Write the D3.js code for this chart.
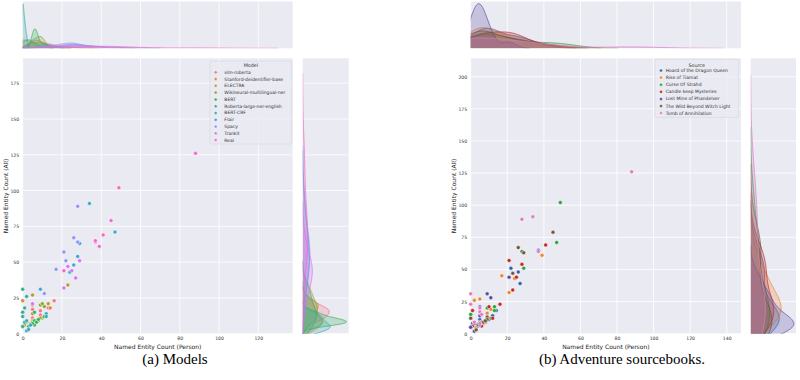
<!DOCTYPE html>
<html><head><meta charset="utf-8">
<script src="https://cdn.jsdelivr.net/npm/d3@7"></script>
<style>body{margin:0;background:#fff}svg{display:block}</style>
</head><body>
<svg id="c" width="800" height="380"></svg>
<script>
// ---------------- DATA ----------------
const models = ["xlm-roberta","Stanford-deidentifier-base","ELECTRA","Wikineural-multilingual-ner","BERT",
  "Roberta-large-ner-english","BERT-CRF","Flair","Spacy","Trankit","Real"];
const sources = ["Hoard of the Dragon Queen","Rise of Tiamat","Curse Of Strahd","Candle keep Mysteries",
  "Lost Mine of Phandelver","The Wild Beyond Witch Light","Tomb of Annihilation"];
// rows: models, columns: sources (same order as `sources`)
const personCount = [
  [5, 9, 13, 16, 6, 9, 5],
  [14, 0, 5, 1, 0, 2, 0],
  [10, 5, 13, 23, 5, 9, 5],
  [8, 11, 9, 10, 4, 7, 5],
  [6, 7, 11, 6, 5, 8, 6],
  [1, 2, 0, 1, 0, 0, 0],
  [12, 3, 4, 12, 2, 3, 2],
  [26, 24, 47, 28, 9, 29, 34],
  [22, 17, 28, 21, 11, 26, 28],
  [27, 21, 29, 25, 5, 23, 37],
  [37, 39, 49, 41, 21, 45, 88]
];
const allCount = [
  [11, 16, 18, 23, 9, 13, 17],
  [18, 15, 9, 6, 5, 8, 23],
  [11, 27, 21, 34, 14, 11, 20],
  [9, 19, 20, 21, 7, 9, 8],
  [9, 8, 12, 6, 7, 10, 15],
  [8, 26, 15, 18, 5, 12, 31],
  [14, 5, 6, 12, 2, 3, 9],
  [48, 43, 71, 54, 31, 63, 91],
  [51, 45, 64, 57, 28, 67, 89],
  [39, 32, 51, 44, 21, 47, 64],
  [65, 61, 102, 69, 44, 79, 126]
];
const xTicksA = [0, 20, 40, 60, 80, 100, 120];
const yTicksA = [0, 25, 50, 75, 100, 125, 150, 175];
const xTicksB = [0, 20, 40, 60, 80, 100, 120, 140];
const yTicksB = [0, 25, 50, 75, 100, 125, 150, 175, 200];
const sourceColors = ["#3060b0", "#ee8530", "#2ea043", "#c62828", "#5b4a9e", "#7b5535", "#e07cc6"];

// ---------------- HUSL palette (seaborn husl_palette) ----------------
function huslToHex(h, s, l) {
  const M = [[3.240969941904521,-1.537383177570093,-0.498610760293],
             [-0.96924363628087,1.87596750150772,0.041555057407175],
             [0.055630079696993,-0.20397695888897,1.056971514242878]];
  const kappa = 903.2962962962963, eps = 0.0088564516790356308;
  const refU = 0.19783000664283681, refV = 0.468319994938791;
  const sub1 = Math.pow(l + 16, 3) / 1560896;
  const sub2 = sub1 > eps ? sub1 : l / kappa;
  const hr = h / 360 * Math.PI * 2;
  let maxC = Infinity;
  for (const [m1, m2, m3] of M) for (const t of [0, 1]) {
    const top1 = (284517 * m1 - 94839 * m3) * sub2;
    const top2 = (838422 * m3 + 769860 * m2 + 731718 * m1) * l * sub2 - 769860 * t * l;
    const bottom = (632260 * m3 - 126452 * m2) * sub2 + 126452 * t;
    const len = (top2 / bottom) / (Math.sin(hr) - (top1 / bottom) * Math.cos(hr));
    if (len >= 0) maxC = Math.min(maxC, len);
  }
  const C = maxC / 100 * s;
  const U = Math.cos(hr) * C, V = Math.sin(hr) * C;
  const vu = U / (13 * l) + refU, vv = V / (13 * l) + refV;
  const Y = l <= 8 ? l / kappa : Math.pow((l + 16) / 116, 3);
  const X = -(9 * Y * vu) / ((vu - 4) * vv - vu * vv);
  const Z = (9 * Y - 15 * vv * Y - vv * X) / (3 * vv);
  const rgb = M.map(([a, b, c]) => {
    const v = a * X + b * Y + c * Z;
    const g = v <= 0.0031308 ? 12.92 * v : 1.055 * Math.pow(v, 1 / 2.4) - 0.055;
    return Math.max(0, Math.min(1, g)) * 255;
  });
  return d3.rgb(rgb[0], rgb[1], rgb[2]).formatHex();
}
const modelColors = models.map((_, i) => {
  let h = (i / models.length + 0.01) % 1;
  return huslToHex(h * 359, 0.9 * 99, 0.65 * 99);
});

// ---------------- helpers ----------------
const svg = d3.select("#c");
const BG = "#EAEAF2";
const FONT = "DejaVu Sans, sans-serif";

function kdeCurve(values, weight) {
  const n = values.length;
  const bw = d3.deviation(values) * Math.pow(n, -0.2);
  const lo = d3.min(values) - 3 * bw, hi = d3.max(values) + 3 * bw;
  const grid = d3.range(200).map(i => lo + (hi - lo) * i / 199);
  return grid.map(g => [g, weight * d3.sum(values, v => Math.exp(-0.5 * ((g - v) / bw) ** 2)) / (n * bw * Math.sqrt(2 * Math.PI))]);
}

let clipId = 0;
function clipRect(x0, y0, w, h) {
  const id = "clip" + (clipId++);
  svg.append("clipPath").attr("id", id).append("rect").attr("x", x0).attr("y", y0).attr("width", w).attr("height", h);
  return "url(#" + id + ")";
}

function drawPanel(cfg) {
  const {L, R, T, B, xMax, yMax, xTicks, yTicks, groups, colors, labels, legendTitle, mTop, mRight, legend, yLabX} = cfg;
  const x = d3.scaleLinear().domain([0, xMax]).range([L, R]);
  const y = d3.scaleLinear().domain([0, yMax]).range([B, T]);

  // main background + grid
  svg.append("rect").attr("x", L).attr("y", T).attr("width", R - L).attr("height", B - T).attr("fill", BG);
  const grid = svg.append("g").attr("stroke", "#fff").attr("stroke-width", 0.8);
  xTicks.forEach(t => grid.append("line").attr("x1", x(t)).attr("x2", x(t)).attr("y1", T).attr("y2", B));
  yTicks.forEach(t => grid.append("line").attr("y1", y(t)).attr("y2", y(t)).attr("x1", L).attr("x2", R));

  // axes
  const ax = svg.append("g").attr("transform", `translate(0,${B})`)
    .call(d3.axisBottom(x).tickValues(xTicks).tickSize(0).tickPadding(3).tickFormat(d3.format("d")));
  const ay = svg.append("g").attr("transform", `translate(${L},0)`)
    .call(d3.axisLeft(y).tickValues(yTicks).tickSize(0).tickPadding(3.5).tickFormat(d3.format("d")));
  [ax, ay].forEach(a => {
    a.select(".domain").remove();
    a.selectAll("text").attr("font-family", FONT).attr("font-size", 4.6).attr("fill", "#333");
  });
  svg.append("text").attr("x", (L + R) / 2).attr("y", B + 15).attr("text-anchor", "middle")
    .attr("font-family", FONT).attr("font-size", 6).attr("fill", "#222").text("Named Entity Count (Person)");
  svg.append("text").attr("transform", `translate(${yLabX},${(T + B) / 2}) rotate(-90)`)
    .attr("text-anchor", "middle").attr("dominant-baseline", "central")
    .attr("font-family", FONT).attr("font-size", 6).attr("fill", "#222").text("Named Entity Count (All)");

  // scatter
  const cp = clipRect(L - 3, T, R - L + 6, B - T + 3);
  const gp = svg.append("g").attr("clip-path", cp);
  groups.forEach((g, gi) => {
    g.pts.forEach(p => {
      gp.append("circle").attr("cx", x(p[0])).attr("cy", y(p[1])).attr("r", 2)
        .attr("fill", colors[gi]).attr("stroke", "#fff").attr("stroke-width", 0.5);
    });
  });

  // marginals
  const N = d3.sum(groups, g => g.pts.length);
  const kx = groups.map(g => kdeCurve(g.pts.map(p => p[0]), g.pts.length / N));
  const ky = groups.map(g => kdeCurve(g.pts.map(p => p[1]), g.pts.length / N));
  const dxMax = d3.max(kx, c => d3.max(c, d => d[1])) * 1.05;
  const dyMax = d3.max(ky, c => d3.max(c, d => d[1])) * 1.05;

  // top marginal
  svg.append("rect").attr("x", L).attr("y", mTop[0]).attr("width", R - L).attr("height", mTop[1] - mTop[0]).attr("fill", BG);
  const gt = svg.append("g").attr("stroke", "#fff").attr("stroke-width", 0.8);
  xTicks.forEach(t => gt.append("line").attr("x1", x(t)).attr("x2", x(t)).attr("y1", mTop[0]).attr("y2", mTop[1]));
  const dTop = d3.scaleLinear().domain([0, dxMax]).range([mTop[1], mTop[0]]);
  const areaT = d3.area().x(d => x(d[0])).y0(mTop[1]).y1(d => dTop(d[1]));
  const lineT = d3.line().x(d => x(d[0])).y(d => dTop(d[1]));
  const gtc = svg.append("g").attr("clip-path", clipRect(L, mTop[0], R - L, mTop[1] - mTop[0]));
  kx.forEach((c, i) => {
    gtc.append("path").attr("d", areaT(c)).attr("fill", colors[i]).attr("fill-opacity", 0.25);
    gtc.append("path").attr("d", lineT(c)).attr("fill", "none").attr("stroke", colors[i]).attr("stroke-width", 0.7);
  });

  // right marginal
  svg.append("rect").attr("x", mRight[0]).attr("y", T).attr("width", mRight[1] - mRight[0]).attr("height", B - T).attr("fill", BG);
  const gr = svg.append("g").attr("stroke", "#fff").attr("stroke-width", 0.8);
  yTicks.forEach(t => gr.append("line").attr("y1", y(t)).attr("y2", y(t)).attr("x1", mRight[0]).attr("x2", mRight[1]));
  const dRight = d3.scaleLinear().domain([0, dyMax]).range([mRight[0], mRight[1]]);
  const areaR = d3.area().y(d => y(d[0])).x0(mRight[0]).x1(d => dRight(d[1]));
  const lineR = d3.line().y(d => y(d[0])).x(d => dRight(d[1]));
  const grc = svg.append("g").attr("clip-path", clipRect(mRight[0], T, mRight[1] - mRight[0], B - T));
  ky.forEach((c, i) => {
    grc.append("path").attr("d", areaR(c)).attr("fill", colors[i]).attr("fill-opacity", 0.25);
    grc.append("path").attr("d", lineR(c)).attr("fill", "none").attr("stroke", colors[i]).attr("stroke-width", 0.7);
  });

  // legend
  const lg = svg.append("g");
  lg.append("rect").attr("x", legend.x0).attr("y", legend.y0).attr("width", legend.x1 - legend.x0)
    .attr("height", legend.y1 - legend.y0).attr("rx", 1.5).attr("fill", BG).attr("fill-opacity", 0.8)
    .attr("stroke", "#d0d0d8").attr("stroke-width", 0.5);
  lg.append("text").attr("x", (legend.x0 + legend.x1) / 2).attr("y", legend.titleY).attr("text-anchor", "middle")
    .attr("dominant-baseline", "central").attr("font-family", FONT).attr("font-size", 4.8).attr("fill", "#333").text(legendTitle);
  labels.forEach((lab, i) => {
    const yy = legend.firstY + i * legend.step;
    lg.append("circle").attr("cx", legend.mx).attr("cy", yy).attr("r", 1.5).attr("fill", colors[i])
      .attr("stroke", "#fff").attr("stroke-width", 0.4);
    lg.append("text").attr("x", legend.tx).attr("y", yy).attr("dominant-baseline", "central")
      .attr("font-family", FONT).attr("font-size", 4.5).attr("fill", "#333").text(lab);
  });
}

// ---------------- panel (a): grouped by model ----------------
const groupsA = models.map((m, i) => ({name: m, pts: personCount[i].map((v, j) => [v, allCount[i][j]])}));
drawPanel({
  L: 22.7, R: 292.7, T: 58.3, B: 333.7, xMax: 137.5, yMax: 192.4,
  xTicks: xTicksA, yTicks: yTicksA, groups: groupsA, colors: modelColors, labels: models, legendTitle: "Model",
  mTop: [1.5, 48.3], mRight: [302.7, 348.7], yLabX: 5,
  legend: {x0: 210, x1: 291.7, y0: 61, y1: 144, titleY: 65.2, firstY: 72.3, step: 6.77, mx: 215.7, tx: 224.3}
});

// ---------------- panel (b): grouped by source ----------------
const groupsB = sources.map((s, j) => ({name: s, pts: models.map((_, i) => [personCount[i][j], allCount[i][j]])}));
drawPanel({
  L: 470.7, R: 741, T: 58.3, B: 333.7, xMax: 147.8, yMax: 214.3,
  xTicks: xTicksB, yTicks: yTicksB, groups: groupsB, colors: sourceColors, labels: sources, legendTitle: "Source",
  mTop: [1.5, 48.3], mRight: [750.7, 796], yLabX: 453.3,
  legend: {x0: 655, x1: 738.3, y0: 59.3, y1: 117.3, titleY: 65.3, firstY: 70.5, step: 7.1, mx: 661, tx: 665.7}
});

// captions
svg.append("text").attr("x", 175).attr("y", 364).attr("text-anchor", "middle")
  .attr("font-family", "Liberation Serif, serif").attr("font-size", 15).attr("fill", "#000").text("(a) Models");
svg.append("text").attr("x", 622).attr("y", 364).attr("text-anchor", "middle")
  .attr("font-family", "Liberation Serif, serif").attr("font-size", 15).attr("fill", "#000").text("(b) Adventure sourcebooks.");
</script>
</body></html>
